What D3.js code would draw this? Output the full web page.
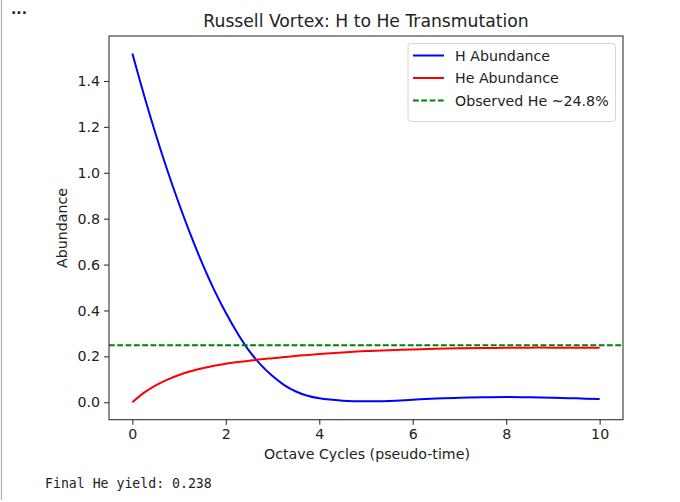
<!DOCTYPE html>
<html><head><meta charset="utf-8">
<script src="https://cdn.jsdelivr.net/npm/d3@7"></script>
<style>html,body{margin:0;padding:0;background:#fff;}svg{display:block;}</style>
</head><body>
<script>
// ---- data ----
const cycles = [0,0.25,0.5,0.75,1,1.25,1.5,1.75,2,2.25,2.5,2.75,3,3.25,3.5,3.75,4,4.5,5,5.5,6,6.5,7,7.5,8,8.5,9,9.5,10];
const hAbundance = [1.52,1.338,1.168,1.01,0.864,0.728,0.603,0.49,0.39,0.301,0.224,0.163,0.114,0.075,0.047,0.028,0.017,0.007,0.004,0.006,0.011,0.016,0.020,0.022,0.023,0.022,0.020,0.017,0.014];
const heAbundance = [0,0.042,0.074,0.099,0.119,0.135,0.148,0.159,0.168,0.175,0.181,0.187,0.192,0.197,0.202,0.206,0.210,0.217,0.223,0.227,0.230,0.233,0.235,0.236,0.237,0.238,0.238,0.238,0.238];
const observedHe = 0.248;
const xTicks = [0,2,4,6,8,10];
const yTicks = [0,0.2,0.4,0.6,0.8,1.0,1.2,1.4];
const legendLabels = ["H Abundance","He Abundance","Observed He ~24.8%"];
const titleText = "Russell Vortex: H to He Transmutation";
const xLabel = "Octave Cycles (pseudo-time)";
const yLabel = "Abundance";
const footer = "Final He yield: 0.238";

const W = 680, H = 502;
const L = 109, R = 623, T = 36, B = 419.7;
const font = "'DejaVu Sans', sans-serif";
const fs = 14.2;

const svg = d3.select("body").append("svg").attr("width", W).attr("height", H);

svg.append("line").attr("x1",1.5).attr("x2",1.5).attr("y1",0).attr("y2",500)
  .attr("stroke","#b0b0b0").attr("stroke-width",1.2);
svg.append("text").attr("x",11).attr("y",14).attr("font-family",font).attr("font-size",14)
  .attr("font-weight","bold").attr("fill","#222").text("...");

const x = d3.scaleLinear().domain([-0.5,10.5]).range([L,R]);
const y = d3.scaleLinear().domain([-0.076,1.596]).range([B,T]);

const g = svg.append("g");

const xAxis = d3.axisBottom(x).tickValues(xTicks).tickFormat(d3.format("d")).tickSize(5).tickPadding(4);
const yAxis = d3.axisLeft(y).tickValues(yTicks).tickFormat(d3.format(".1f")).tickSize(5).tickPadding(4);

const clipId = "clip";
svg.append("defs").append("clipPath").attr("id",clipId).append("rect")
  .attr("x",L).attr("y",T).attr("width",R-L).attr("height",B-T);

const lines = g.append("g").attr("clip-path",`url(#${clipId})`);
const pts = cycles.map((c,i)=>({c,h:hAbundance[i],he:heAbundance[i]}));
const lineH = d3.line().x(d=>x(d.c)).y(d=>y(d.h)).curve(d3.curveCatmullRom.alpha(0.5));
const lineHe = d3.line().x(d=>x(d.c)).y(d=>y(d.he)).curve(d3.curveCatmullRom.alpha(0.5));

lines.append("path").datum(pts).attr("d",lineH).attr("fill","none").attr("stroke","#0000ff").attr("stroke-width",2);
lines.append("path").datum(pts).attr("d",lineHe).attr("fill","none").attr("stroke","#ff0000").attr("stroke-width",2);
lines.append("line").attr("x1",L).attr("x2",R).attr("y1",y(observedHe)).attr("y2",y(observedHe))
  .attr("stroke","#008000").attr("stroke-width",2).attr("stroke-dasharray","5.8,2.5");

const gx = g.append("g").attr("transform",`translate(0,${B})`).call(xAxis);
const gy = g.append("g").attr("transform",`translate(${L},0)`).call(yAxis);
[gx,gy].forEach(a=>{
  a.select(".domain").remove();
  a.selectAll(".tick line").attr("stroke","#333").attr("stroke-width",1.1);
  a.selectAll(".tick text").attr("font-family",font).attr("font-size",fs).attr("fill","#222");
});

g.append("rect").attr("x",L).attr("y",T).attr("width",R-L).attr("height",B-T)
  .attr("fill","none").attr("stroke","#333").attr("stroke-width",1.1);

svg.append("text").attr("x",(L+R)/2).attr("y",27).attr("text-anchor","middle")
  .attr("font-family",font).attr("font-size",17.2).attr("fill","#222").text(titleText);
svg.append("text").attr("x",(L+R)/2+1,).attr("y",459).attr("text-anchor","middle")
  .attr("font-family",font).attr("font-size",fs).attr("fill","#222").text(xLabel);
svg.append("text").attr("transform","translate(67,228) rotate(-90)").attr("text-anchor","middle")
  .attr("font-family",font).attr("font-size",fs).attr("fill","#222").text(yLabel);

const lg = svg.append("g");
lg.append("rect").attr("x",408).attr("y",43.5).attr("width",207.5).attr("height",78).attr("rx",3)
  .attr("fill","#fff").attr("fill-opacity",0.8).attr("stroke","#d6d6d6").attr("stroke-width",1);
const lstyles = [{c:"#0000ff",d:null},{c:"#ff0000",d:null},{c:"#008000",d:"5.8,2.5"}];
legendLabels.forEach((t,i)=>{
  const yy = 55.5 + i*22.5;
  const ln = lg.append("line").attr("x1",413).attr("x2",444).attr("y1",yy).attr("y2",yy)
    .attr("stroke",lstyles[i].c).attr("stroke-width",2);
  if(lstyles[i].d) ln.attr("stroke-dasharray",lstyles[i].d);
  lg.append("text").attr("x",455).attr("y",yy+5).attr("font-family",font).attr("font-size",fs)
    .attr("fill","#222").text(t);
});

svg.append("text").attr("x",45).attr("y",488).attr("font-family","'DejaVu Sans Mono', monospace")
  .attr("font-size",13.2).attr("fill","#222").text(footer);
</script>
</body></html>
